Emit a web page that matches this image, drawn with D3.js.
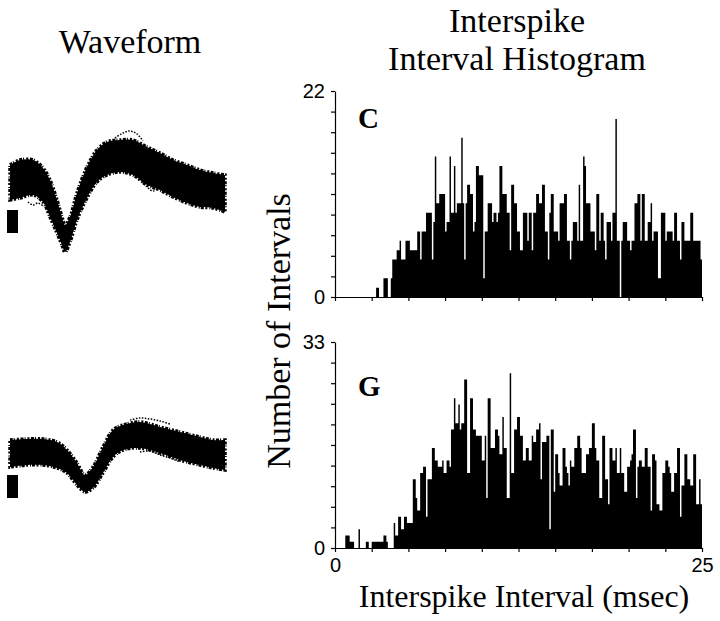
<!DOCTYPE html>
<html>
<head>
<meta charset="utf-8">
<script src="https://cdn.jsdelivr.net/npm/d3@7"></script>
<style>
  body { margin: 0; background: #fff; }
  svg { display: block; }
  .title { font-family: "Liberation Serif", "Times New Roman", serif; fill: #000; }
  .tick text { font-family: "Liberation Sans", Arial, sans-serif; font-size: 20px; fill: #000; }
  .tick line, .domain { stroke: #000; stroke-width: 1.2; }
</style>
</head>
<body>
<div id="chart"></div>
<script>
// histogram bins: 0.1 msec wide, 0 - 25 msec
var binWidth = 0.1;
var xTickValues = d3.range(0, 25.01, 2.5);

// panel C (top), counts per bin
var countsC = [
  0,0,0,0,0,0,0,0,0,0, 0,0,0,0,0,0,0,0,0,0,
  0,0,0,0,0,0,0,0,1,1, 0,0,0,2,2,2,0,0,2,4,
  4,4,5,5,6,4,4,4,6,6, 6,5,5,5,5,5,7,7,4,7,
  7,7,9,9,9,9,4,8,15,10, 10,11,11,11,11,7,8,8,15,9,
  9,14,9,10,10,10,17,10,4,10, 12,12,11,11,7,8,14,14,13,13,
  13,2,7,7,10,10,10,8,9,9, 8,9,14,14,11,11,11,9,9,5,
  12,12,10,10,7,7,5,5,9,9, 9,6,9,9,5,9,9,11,11,10,
  10,12,12,7,7,4,9,11,11,7, 7,7,6,10,10,10,11,11,6,6,
  4,6,8,8,8,6,12,6,6,15, 14,10,10,10,7,7,7,5,11,11,
  6,9,9,6,4,8,8,8,6,9, 9,19,6,6,0,6,8,8,8,6,
  6,5,6,6,10,10,11,11,6,11, 11,6,6,8,8,10,6,7,7,7,
  2,2,9,9,9,6,7,7,7,7, 6,9,9,6,6,4,8,8,6,6,
  6,6,9,9,6,6,6,6,6,4
];

// panel G (bottom), counts per bin
var countsG = [
  0,0,0,0,0,0,0,2,2,2, 1,1,1,0,0,0,3,0,0,0,
  0,1,1,0,0,1,1,1,1,1, 1,1,1,2,2,1,0,0,0,0,
  4,2,2,5,5,3,3,5,5,4, 4,4,4,11,11,8,6,6,12,12,
  13,13,5,11,11,11,16,16,14,14, 13,13,13,14,12,12,14,14,13,19,
  19,24,20,20,23,19,20,20,27,27, 12,12,24,24,19,19,18,18,18,18,
  14,14,18,8,24,24,16,16,16,19, 19,18,15,15,21,16,16,8,8,28,
  12,12,19,19,21,21,18,18,14,14, 16,16,14,14,18,17,17,19,19,20,
  11,17,17,17,18,18,3,19,19,9, 15,15,12,10,10,16,16,13,12,10,
  14,13,13,16,16,18,18,16,12,12, 12,15,15,16,16,20,20,16,14,14,
  8,8,18,18,11,11,7,16,16,14, 14,16,12,12,16,12,12,9,9,13,
  13,14,15,19,19,8,13,14,14,13, 13,16,16,13,13,6,15,15,14,7,
  7,6,6,12,12,14,14,13,12,9, 9,12,12,16,16,5,10,10,15,15,
  11,11,10,10,15,15,7,7,11,7
];

// waveform envelopes (time in 0.01 msec, amplitude arbitrary units)
var wfTimeA  = [0,10,23,33,40,47,52,55,60,67,77,87,97,110,123,137,150,163,177,190,203,215];
var wfUpperA = [20,25,25,17,5,-15,-32,-40,-32,-8,18,35,43,45,45,38,32,25,20,15,12,10];
var wfLowerA = [-15,-13,-10,-17,-32,-48,-60,-67,-57,-35,-13,3,10,13,10,0,-5,-12,-18,-22,-23,-27];

var wfTimeB  = [0,17,33,47,57,67,75,83,93,103,113,130,150,170,190,203,215];
var wfUpperB = [15,16,16,13,5,-8,-20,-12,8,25,30,33,28,23,18,15,15];
var wfLowerB = [-12,-10,-10,-13,-18,-30,-37,-33,-18,-2,5,7,2,-5,-10,-13,-15];

// stray traces outside the bands
var strayTimeA = [105,113,120,127,133];
var strayAmpA  = [47,52,54,51,44];
var strayTimeA2 = [130,137,143,150];
var strayAmpA2  = [6,-2,-6,-2];
var strayTimeA3 = [18,23,28,33];
var strayAmpA3  = [-17,-20,-18,-21];
var strayTimeB = [120,130,140,150,160];
var strayAmpB  = [35,37,36,34,31];
var strayTimeB2 = [130,140,150,160,170];
var strayAmpB2  = [3,4,0,-3,-7];

var calAmp = 23;

var svgWidth = 720, svgHeight = 621;
var svg = d3.select("#chart").append("svg")
  .attr("width", svgWidth)
  .attr("height", svgHeight);

// ---- titles ----
svg.append("text").attr("class", "title")
  .attr("x", 130).attr("y", 53)
  .attr("text-anchor", "middle").style("font-size", "34px")
  .text("Waveform");
svg.append("text").attr("class", "title")
  .attr("x", 517).attr("y", 32)
  .attr("text-anchor", "middle").style("font-size", "34px")
  .text("Interspike");
svg.append("text").attr("class", "title")
  .attr("x", 517).attr("y", 70)
  .attr("text-anchor", "middle").style("font-size", "34px")
  .text("Interval Histogram");
svg.append("text").attr("class", "title")
  .attr("transform", "translate(290,331) rotate(-90)")
  .attr("text-anchor", "middle").style("font-size", "34px")
  .text("Number of Intervals");
svg.append("text").attr("class", "title")
  .attr("x", 524).attr("y", 607)
  .attr("text-anchor", "middle").style("font-size", "32px")
  .text("Interspike Interval (msec)");

// ---- histograms ----
var xScale = d3.scaleLinear().domain([0, 25]).range([335, 702]);

function histogram(counts, yMax, top, bottom, letter, letterY, showXLabels) {
  var yScale = d3.scaleLinear().domain([0, yMax]).range([bottom, top]);
  var pts = counts.map(function(c, i) { return [i * binWidth, c]; });
  pts.push([counts.length * binWidth, counts[counts.length - 1]]);

  var area = d3.area()
    .curve(d3.curveStepAfter)
    .x(function(d) { return xScale(d[0]); })
    .y0(yScale(0))
    .y1(function(d) { return yScale(d[1]); });

  svg.append("path")
    .datum(pts)
    .attr("d", area)
    .attr("fill", "#000")
    .attr("stroke", "none");

  var yAxis = d3.axisLeft(yScale)
    .tickValues(d3.range(0, 11).map(function(k) { return k * yMax / 10; }))
    .tickSize(4).tickSizeOuter(0).tickPadding(6)
    .tickFormat(function(d) { return (d === 0 || d === yMax) ? d : ""; });
  svg.append("g")
    .attr("transform", "translate(" + xScale(0) + ",0)")
    .call(yAxis);

  var xAxis = d3.axisBottom(xScale)
    .tickValues(xTickValues)
    .tickSize(4).tickSizeOuter(0).tickPadding(6)
    .tickFormat(function(d) { return (showXLabels && (d === 0 || d === 25)) ? d : ""; });
  svg.append("g")
    .attr("transform", "translate(0," + yScale(0) + ")")
    .call(xAxis);

  svg.append("text").attr("class", "title")
    .attr("x", 358).attr("y", letterY)
    .style("font-size", "29px").style("font-weight", "bold")
    .text(letter);
}

histogram(countsC, 22, 91, 297, "C", 128, false);
histogram(countsG, 33, 342, 548, "G", 396, true);

// ---- waveforms ----
var tScale = d3.scaleLinear().domain([0, 215]).range([10, 225]);

function waveform(times, upper, lower, strays, baseY, calTop) {
  var aScale = d3.scaleLinear().domain([-100, 100]).range([baseY + 100, baseY - 100]);
  var band = times.map(function(t, i) { return { t: t, hi: upper[i], lo: lower[i] }; });

  var area = d3.area()
    .curve(d3.curveCatmullRom)
    .x(function(d) { return tScale(d.t); })
    .y0(function(d) { return aScale(d.lo); })
    .y1(function(d) { return aScale(d.hi); });

  svg.append("path")
    .datum(band)
    .attr("d", area)
    .attr("fill", "#000")
    .attr("stroke", "#000")
    .attr("stroke-width", 3.5)
    .attr("stroke-dasharray", "3,1,1,2,2,1.5");

  var line = d3.line()
    .curve(d3.curveCatmullRom)
    .x(function(d) { return tScale(d[0]); })
    .y(function(d) { return aScale(d[1]); });

  strays.forEach(function(s) {
    svg.append("path")
      .datum(s[0].map(function(t, i) { return [t, s[1][i]]; }))
      .attr("d", line)
      .attr("fill", "none")
      .attr("stroke", "#000")
      .attr("stroke-width", 1.5)
      .attr("stroke-dasharray", "1.5,1.5");
  });

  // calibration bar
  svg.append("rect")
    .attr("x", tScale(-3))
    .attr("width", tScale(8) - tScale(-3))
    .attr("y", aScale(calTop))
    .attr("height", aScale(calTop - calAmp) - aScale(calTop))
    .attr("fill", "#000");
}

waveform(wfTimeA, wfUpperA, wfLowerA,
  [[strayTimeA, strayAmpA], [strayTimeA2, strayAmpA2], [strayTimeA3, strayAmpA3]], 185, -25);
waveform(wfTimeB, wfUpperB, wfLowerB,
  [[strayTimeB, strayAmpB], [strayTimeB2, strayAmpB2]], 455, -20);
</script>
</body>
</html>
